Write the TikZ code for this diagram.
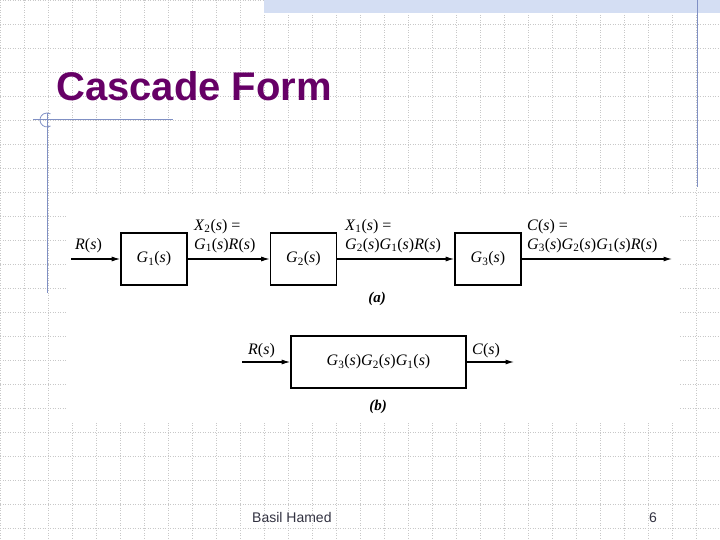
\documentclass[tikz,border=0pt]{standalone}
\usepackage{fontspec}
\setmainfont{Liberation Sans}
\newfontfamily\serifface{Liberation Serif}
\usetikzlibrary{arrows.meta}
\definecolor{titlepurple}{RGB}{102,0,102}
\definecolor{ruleblue}{RGB}{128,144,196}
\definecolor{gridgray}{RGB}{200,200,200}
\definecolor{bandblue}{RGB}{212,222,243}
\definecolor{footgray}{RGB}{50,50,65}
\newcommand{\tfn}[2]{\textit{#1}\textsubscript{#2}(\textit{s})}
\newcommand{\sgl}[1]{\textit{#1}(\textit{s})}
\tikzset{
  gridline/.style={gridgray, line width=0.6pt, dash pattern=on 1pt off 1.5pt},
  block/.style={draw, line width=1.6pt, minimum width=66pt, minimum height=52pt,
    inner sep=0pt, font=\fontsize{16}{18}\serifface},
  lbl/.style={anchor=base west, inner sep=0pt, font=\fontsize{16}{18}\serifface},
  sig/.style={line width=1.1pt, -{Latex[length=8.5pt,width=5pt]}},
}
\begin{document}
\begin{tikzpicture}[x=1pt,y=-1pt]
      \useasboundingbox (0,0) rectangle (720,540);
      % slide background
      \foreach \x in {0,24,...,720} \draw[gridline] (\x,0) -- (\x,540);
      \foreach \y in {0,24,...,540} \draw[gridline] (0,\y) -- (720,\y);
      \fill[bandblue] (264,0) rectangle (720,13);
      \fill[white] (66,195) rectangle (680,423);
      \draw[ruleblue, line width=1pt] (697,0) -- (697,187);
      \draw[ruleblue, line width=1pt] (33,120) -- (173,120);
      \draw[ruleblue, line width=1pt] (47,113) -- (47,293);
      \draw[ruleblue, line width=0.8pt] (50.5,126) arc (60:300:7);
      \node[anchor=base west, inner sep=0pt, text=titlepurple,
        font=\fontsize{40}{44}\selectfont\bfseries] (title) at (56,101) {Cascade Form};
      \node[anchor=base west, inner sep=0pt, text=footgray,
        font=\fontsize{14}{16}\selectfont] (author) at (252,522) {Basil Hamed};
      \node[anchor=base west, inner sep=0pt, text=footgray,
        font=\fontsize{14}{16}\selectfont] (page) at (649,522) {6};
      % (a) cascade
      \coordinate (in) at (71,259);
      \coordinate (out) at (672,259);
      \node[block] (g1) at (154,259) {\tfn{G}{1}};
      \node[block] (g2) at (303.5,259) {\tfn{G}{2}};
      \node[block] (g3) at (488,259) {\tfn{G}{3}};
      \node[lbl] (r) at (75,249) {\sgl{R}};
      \node[lbl] (x2) at (194,230) {\tfn{X}{2} =};
      \node[lbl] (x2e) at (194,249) {\tfn{G}{1}\sgl{R}};
      \node[lbl] (x1) at (345,230) {\tfn{X}{1} =};
      \node[lbl] (x1e) at (345,249) {\tfn{G}{2}\tfn{G}{1}\sgl{R}};
      \node[lbl] (c) at (527,230) {\sgl{C} =};
      \node[lbl] (ce) at (527,249) {\tfn{G}{3}\tfn{G}{2}\tfn{G}{1}\sgl{R}};
      \node[font=\fontsize{15}{17}\serifface\bfseries\itshape] (a) at (377,299) {(a)};
      % (b) equivalent
      \coordinate (bin) at (242,362);
      \coordinate (bout) at (514,362);
      \node[block, minimum width=175pt] (g321) at (378.5,362) {\tfn{G}{3}\tfn{G}{2}\tfn{G}{1}};
      \node[lbl] (rb) at (248,354) {\sgl{R}};
      \node[lbl] (cb) at (472,354) {\sgl{C}};
      \node[font=\fontsize{15}{17}\serifface\bfseries\itshape] (b) at (378,407) {(b)};
      \begin{scope}[sig]
        \draw (in) to (g1);
        \draw (g1) to (g2);
        \draw (g2) to (g3);
        \draw (g3) to (out);
        \draw (bin) to (g321);
        \draw (g321) to (bout);
      \end{scope}
    \end{tikzpicture}
\end{document}
